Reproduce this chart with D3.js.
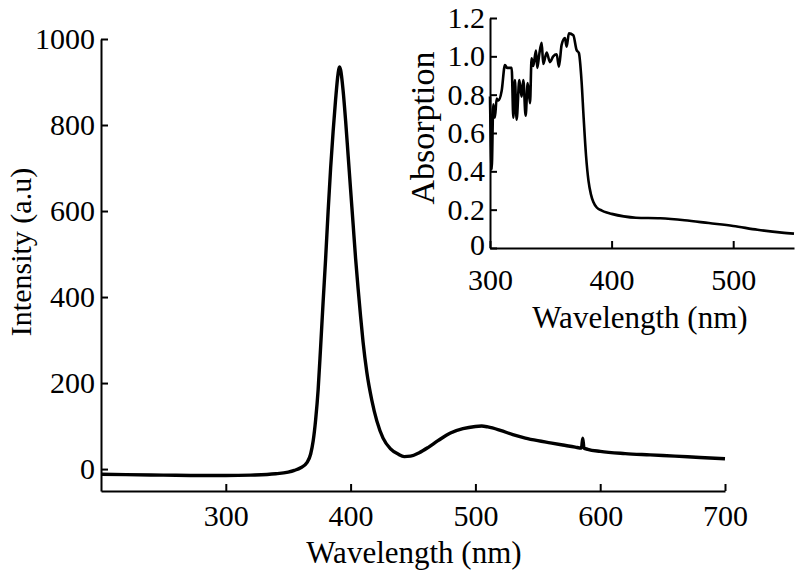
<!DOCTYPE html>
<html>
<head>
<meta charset="utf-8">
<script src="https://cdn.jsdelivr.net/npm/d3@7"></script>
<style>
  body { margin: 0; background: #fff; }
  svg text { font-family: "Liberation Serif", "Times New Roman", serif; fill: #000; }
  .axis path, .axis line { stroke: #000; stroke-width: 2; }
  .axis text { font-size: 30px; }
</style>
</head>
<body>
<div id="content"></div>
<script>
// photoluminescence spectrum (main panel)
var plWavelength = [200, 220, 250, 280, 300, 320, 340, 350, 355, 360, 365, 368, 370, 372, 374, 376, 378, 380, 382, 384, 386, 388, 390, 391, 392, 394, 396, 398, 400, 402, 404, 406, 408, 410, 413, 417, 421, 426, 432, 438, 443, 448, 455, 462, 470, 480, 490, 500, 505, 510, 520, 530, 540, 550, 560, 570, 580, 585, 586, 587, 590, 600, 620, 640, 660, 680, 700];
var plIntensity  = [-12, -13, -14, -15, -15, -14, -11, -7, -3, 3, 15, 35, 65, 115, 185, 285, 390, 490, 600, 700, 785, 860, 920, 935, 928, 880, 810, 730, 650, 570, 490, 420, 355, 295, 225, 160, 112, 72, 47, 35, 29, 30, 38, 50, 66, 84, 94, 99, 100, 98, 90, 80, 72, 66, 61, 56, 51, 49, 72, 49, 46, 41, 36, 33, 30, 27, 24];

// absorption spectrum (inset)
var absWavelength = [300, 301.4, 302.7, 304, 305.5, 307, 309.6, 312.3, 314, 317.8, 319.2, 320.5, 321.9, 324.1, 326, 327.4, 329.3, 331, 332.9, 334.2, 335.6, 337.8, 338.9, 340.5, 342.5, 343.8, 346.6, 349.3, 352, 354.8, 356.7, 358.9, 361.6, 363, 364.9, 368.5, 371.2, 373.1, 375.3, 377, 379, 381, 383, 385, 388, 392, 396, 400, 410, 420, 440, 460, 480, 500, 520, 540, 550];
var absValue      = [0.79, 0.41, 0.75, 0.68, 0.78, 0.77, 0.82, 0.955, 0.94, 0.94, 0.68, 0.876, 0.67, 0.876, 0.79, 0.876, 0.69, 0.86, 0.756, 0.99, 0.95, 1.03, 0.94, 1.01, 1.07, 0.96, 1.02, 0.97, 1.0, 1.01, 0.946, 1.06, 1.095, 1.05, 1.12, 1.11, 1.033, 1.017, 0.87, 0.68, 0.48, 0.35, 0.28, 0.24, 0.21, 0.195, 0.185, 0.178, 0.165, 0.158, 0.155, 0.145, 0.13, 0.115, 0.095, 0.08, 0.075];

var plXTicks = [300, 400, 500, 600, 700];
var plYTicks = [0, 200, 400, 600, 800, 1000];
var absXTicks = [300, 400, 500];
var absYTicks = [0, 0.2, 0.4, 0.6, 0.8, 1.0, 1.2];

var width = 796, height = 572;

var svg = d3.select("div#content").append("svg")
  .attr("width", width)
  .attr("height", height);

// ---- main panel ----
var x = d3.scaleLinear().domain([200, 700]).range([101, 725]);
var y = d3.scaleLinear().domain([-51, 1000]).range([491, 39]);

svg.append("g")
  .attr("class", "axis")
  .attr("transform", "translate(0," + 491 + ")")
  .call(d3.axisBottom(x).tickValues(plXTicks).tickSizeInner(-7).tickSizeOuter(0).tickPadding(14));

svg.append("g")
  .attr("class", "axis")
  .attr("transform", "translate(" + 101 + ",0)")
  .call(d3.axisLeft(y).tickValues(plYTicks).tickSizeInner(-7).tickSizeOuter(0).tickPadding(6)
    .tickFormat(d3.format("d")));

var plData = plWavelength.map(function(d, i) { return [d, plIntensity[i]]; });

var plLine = d3.line()
  .x(function(d) { return x(d[0]); })
  .y(function(d) { return y(d[1]); })
  .curve(d3.curveMonotoneX);

svg.append("path")
  .datum(plData)
  .attr("d", plLine)
  .attr("fill", "none")
  .attr("stroke", "#000")
  .attr("stroke-width", 3.4)
  .attr("stroke-linejoin", "round");

svg.append("text")
  .attr("x", 414)
  .attr("y", 563)
  .style("text-anchor", "middle")
  .style("font-size", "31px")
  .text("Wavelength (nm)");

svg.append("text")
  .attr("transform", "translate(31,252) rotate(-90)")
  .style("text-anchor", "middle")
  .style("font-size", "30px")
  .text("Intensity (a.u)");

// ---- inset ----
var xi = d3.scaleLinear().domain([300, 550]).range([490, 794]);
var yi = d3.scaleLinear().domain([0, 1.2]).range([248, 18]);

svg.append("g")
  .attr("class", "axis")
  .attr("transform", "translate(0," + 248 + ")")
  .call(d3.axisBottom(xi).tickValues(absXTicks).tickSizeInner(-7).tickSizeOuter(0).tickPadding(21));

var insetY = svg.append("g")
  .attr("class", "axis")
  .attr("transform", "translate(" + 490 + ",0)")
  .call(d3.axisLeft(yi).tickValues(absYTicks).tickSizeInner(-7).tickSizeOuter(0).tickPadding(5)
    .tickFormat(function(d) { return d === 0 ? "0" : d3.format(".1f")(d); }));

// the "0" sits a touch higher so it clears the 300 below it
insetY.selectAll(".tick text")
  .filter(function(d) { return d === 0; })
  .attr("dy", "0.2em");

var absData = absWavelength.map(function(d, i) { return [d, absValue[i]]; });

var absLine = d3.line()
  .x(function(d) { return xi(d[0]); })
  .y(function(d) { return yi(d[1]); })
  .curve(d3.curveMonotoneX);

svg.append("path")
  .datum(absData)
  .attr("d", absLine)
  .attr("fill", "none")
  .attr("stroke", "#000")
  .attr("stroke-width", 2.6)
  .attr("stroke-linejoin", "round");

svg.append("text")
  .attr("x", 640)
  .attr("y", 328)
  .style("text-anchor", "middle")
  .style("font-size", "31px")
  .text("Wavelength (nm)");

svg.append("text")
  .attr("transform", "translate(434,128) rotate(-90)")
  .style("text-anchor", "middle")
  .style("font-size", "34px")
  .text("Absorption");
</script>
</body>
</html>
